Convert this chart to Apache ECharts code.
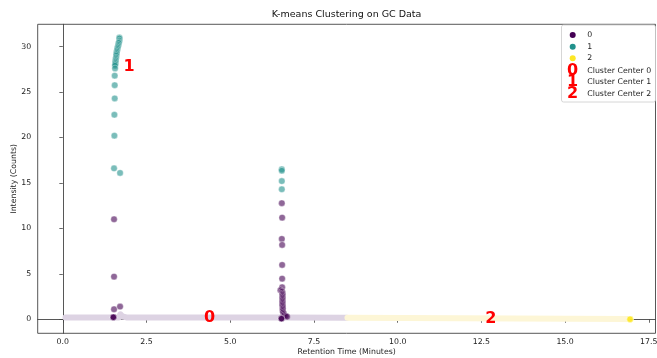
<!DOCTYPE html>
<html>
<head>
<meta charset="utf-8">
<script src="https://cdn.jsdelivr.net/npm/echarts@6/dist/echarts.min.js"></script>
<style>
html,body{margin:0;padding:0;background:#fff;}
#chart{width:657px;height:358px;}
</style>
</head>
<body>
<div id="chart"></div>
<script>
// ---- data ----
const titleText = 'K-means Clustering on GC Data';
const xAxisName = 'Retention Time (Minutes)';
const yAxisName = 'Intensity (Counts)';
const xTicks = [0, 2.5, 5, 7.5, 10, 12.5, 15, 17.5];
const yTicks = [0, 5, 10, 15, 20, 25, 30];
const clusterNames = ['0', '1', '2'];
const centerNames = ['Cluster Center 0', 'Cluster Center 1', 'Cluster Center 2'];

// cluster 0 (purple) individual points
const cluster0X = [1.53, 1.53, 1.53, 1.71, 1.51, 1.51, 1.51,
  6.54, 6.55, 6.54, 6.55, 6.55, 6.55, 6.55, 6.50, 6.55, 6.56, 6.56, 6.56, 6.56, 6.56, 6.56, 6.56, 6.56,
  6.56, 6.56, 6.57, 6.57, 6.57, 6.57, 6.58, 6.60, 6.62, 6.66, 6.70, 6.53, 6.53, 6.53];
const cluster0Y = [11.0, 4.69, 1.10, 1.39, 0.22, 0.22, 0.22,
  12.77, 11.18, 8.84, 8.18, 5.98, 4.47, 3.52, 3.19, 3.04, 2.85, 2.70, 2.55, 2.40, 2.25, 2.10, 1.95, 1.80,
  1.65, 1.50, 1.35, 1.20, 1.05, 0.90, 0.75, 0.60, 0.45, 0.35, 0.28, 0.07, 0.07, 0.07];

// cluster 1 (teal)
const cluster1X = [1.69, 1.69, 1.69, 1.68, 1.67, 1.66, 1.65, 1.64, 1.63, 1.62, 1.615, 1.61, 1.60, 1.595,
  1.59, 1.585, 1.58, 1.575, 1.57, 1.565, 1.56, 1.56, 1.55, 1.55, 1.55, 1.54, 1.54, 1.53, 1.71,
  6.54, 6.54, 6.54, 6.54];
const cluster1Y = [31.0, 30.9, 30.66, 30.5, 30.4, 30.2, 30.05, 29.9, 29.75, 29.6, 29.45, 29.3, 29.15, 29.0,
  28.8, 28.65, 28.5, 28.35, 28.2, 28.05, 27.9, 27.6, 26.8, 25.75, 24.3, 22.5, 20.2, 16.6, 16.1,
  16.5, 16.35, 15.2, 14.3];

// cluster 2 (yellow)
const cluster2X = [16.94, 16.94, 16.94];
const cluster2Y = [0.0, 0.0, 0.0];

// dense baseline runs (thousands of overlapping points in the reference)
const baseline0X = [0.08, 1.68, 1.72, 1.78, 1.9, 6.6, 8.48];
const baseline0Y = [0.20, 0.20, 0.55, 0.30, 0.20, 0.18, 0.16];
const baseline2X = [8.50, 16.85];
const baseline2Y = [0.16, 0.02];

// cluster centres (label positions)
const centerX = [4.38, 1.98, 12.78];
const centerY = [0.18, 27.76, 0.0];
const centerLabels = ['0', '1', '2'];

// ---- build ----
const FONT = 'DejaVu Sans';
const colors = ['#440154', '#21918c', '#fde725'];
const zip = (xs, ys) => xs.map((x, i) => [x, ys[i]]);

function scatterSeries(name, xs, ys, color) {
  return {
    name, type: 'scatter', data: zip(xs, ys), symbolSize: 6.5, z: 3,
    itemStyle: { color, opacity: 0.6, borderColor: '#ffffff', borderWidth: 0.6 },
    silent: true, animation: false
  };
}
function baselineSeries(xs, ys, color) {
  return {
    type: 'line', data: zip(xs, ys), showSymbol: false, symbol: 'none', z: 2,
    lineStyle: { color, width: 6, cap: 'round', join: 'round' },
    silent: true, animation: false
  };
}

const plotLeft = 37.7, plotRight = 655.5, plotTop = 24.3, plotBottom = 333.3;

// legend drawn as graphic
const legendRowsY = [35, 46.7, 58.3, 70.7, 82.2, 93.8];
const legendEls = [{
  type: 'rect', shape: { x: 561.5, y: 25, width: 94, height: 77, r: 2 },
  style: { fill: 'rgba(255,255,255,0.8)', stroke: '#cccccc', lineWidth: 0.8 }, z: 10
}];
clusterNames.forEach((n, i) => {
  legendEls.push({ type: 'circle', shape: { cx: 572.7, cy: legendRowsY[i], r: 3 },
    style: { fill: colors[i] }, z: 11 });
  legendEls.push({ type: 'text', x: 587.3, y: legendRowsY[i],
    style: { text: n, font: '7.8px "' + FONT + '"', fill: '#222', verticalAlign: 'middle' }, z: 11 });
});
centerNames.forEach((n, i) => {
  const y = legendRowsY[i + 3];
  legendEls.push({ type: 'text', x: 572.5, y: y,
    style: { text: centerLabels[i], font: 'bold 16px "' + FONT + '"', fill: '#ff0000', align: 'center', verticalAlign: 'middle' }, z: 11 });
  legendEls.push({ type: 'text', x: 587.3, y: y,
    style: { text: n, font: '7.8px "' + FONT + '"', fill: '#222', verticalAlign: 'middle' }, z: 11 });
});

const chart = echarts.init(document.getElementById('chart'), null, { renderer: 'canvas' });
chart.setOption({
  animation: false,
  backgroundColor: '#ffffff',
  textStyle: { fontFamily: FONT },
  title: {
    text: titleText, left: (plotLeft + plotRight) / 2, top: 9.5, textAlign: 'center', padding: 0,
    textStyle: { fontFamily: FONT, fontSize: 9.5, fontWeight: 'normal', color: '#111' }
  },
  grid: {
    left: plotLeft, top: plotTop, right: 657 - plotRight, bottom: 358 - plotBottom,
    containLabel: false, outerBoundsMode: 'none',
    show: true, borderColor: '#444', borderWidth: 0.9, backgroundColor: 'transparent'
  },
  xAxis: {
    type: 'value', min: -0.75, max: 17.7,
    name: xAxisName, nameLocation: 'middle', nameGap: 15, nameMoveOverlap: false,
    nameTextStyle: { fontFamily: FONT, fontSize: 7.8, color: '#222' },
    axisLine: { show: true, lineStyle: { color: '#444', width: 0.9 } },
    axisTick: { show: true, length: 3.5, customValues: xTicks, lineStyle: { color: '#444', width: 0.8 } },
    axisLabel: { customValues: xTicks, margin: 4.5, fontFamily: FONT, fontSize: 7.8, color: '#222',
      formatter: v => v.toFixed(1) },
    splitLine: { show: false }
  },
  yAxis: {
    type: 'value', min: -1.545, max: 32.45,
    name: yAxisName, nameLocation: 'middle', nameGap: 19.5, nameMoveOverlap: false,
    nameTextStyle: { fontFamily: FONT, fontSize: 7.8, color: '#222' },
    axisLine: { show: true, lineStyle: { color: '#444', width: 0.9 } },
    axisTick: { show: true, length: 3.5, customValues: yTicks, lineStyle: { color: '#444', width: 0.8 } },
    axisLabel: { customValues: yTicks, margin: 6.5, fontFamily: FONT, fontSize: 7.8, color: '#222',
      formatter: v => String(v) },
    splitLine: { show: false }
  },
  series: [
    baselineSeries(baseline0X, baseline0Y, '#ddd3e3'),
    baselineSeries(baseline2X, baseline2Y, '#fdf6d6'),
    scatterSeries(clusterNames[0], cluster0X, cluster0Y, colors[0]),
    scatterSeries(clusterNames[1], cluster1X, cluster1Y, colors[1]),
    scatterSeries(clusterNames[2], cluster2X, cluster2Y, colors[2]),
    {
      name: 'centers', type: 'scatter', z: 5, symbolSize: 0,
      data: centerX.map((x, i) => [x, centerY[i], centerLabels[i]]),
      itemStyle: { color: '#ff0000', opacity: 1 },
      label: { show: true, position: 'inside', formatter: p => p.data[2], opacity: 1,
        fontFamily: FONT, fontSize: 16, fontWeight: 'bold', color: '#ff0000' },
      silent: true, animation: false
    }
  ],
  graphic: { elements: legendEls }
});
</script>
</body>
</html>
